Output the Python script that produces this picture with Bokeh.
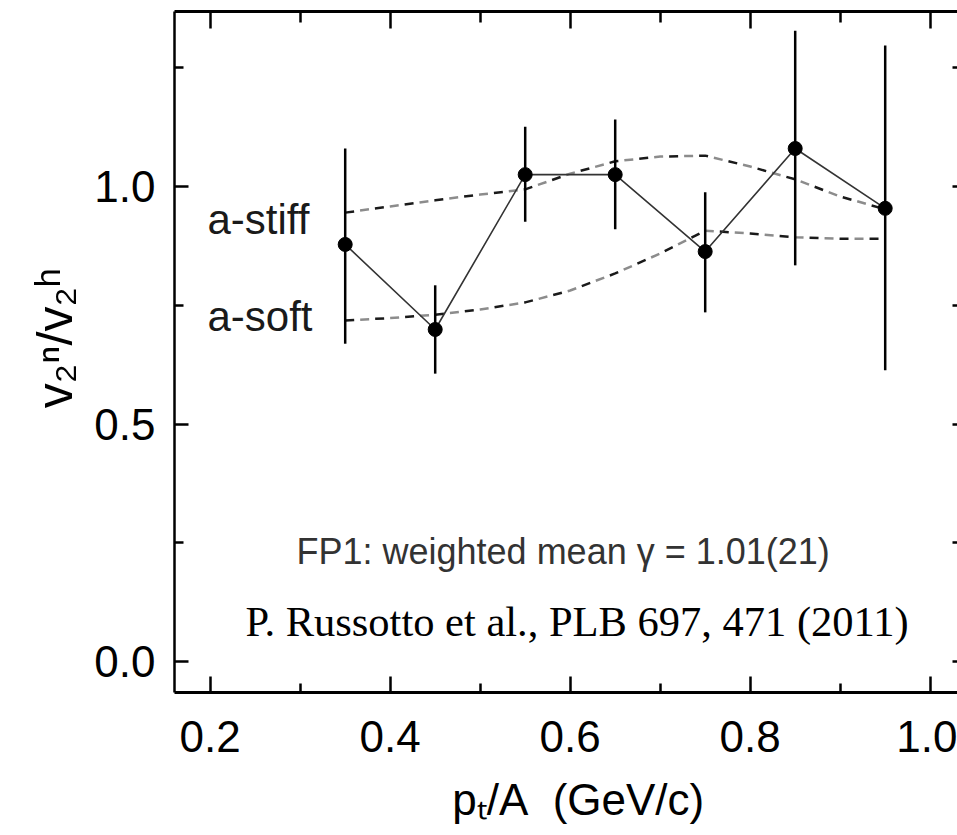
import math
from bokeh.plotting import figure
from bokeh.models import LinearAxis, FixedTicker, Range1d, Label
from bokeh.embed import file_html
from bokeh.resources import INLINE

# ---------------- data ----------------
pt = [0.35, 0.45, 0.55, 0.65, 0.75, 0.85, 0.95]
ratio = [0.878, 0.699, 1.025, 1.025, 0.863, 1.080, 0.954]
err_hi = [1.080, 0.792, 1.126, 1.141, 0.988, 1.328, 1.297]
err_lo = [0.669, 0.606, 0.926, 0.910, 0.735, 0.834, 0.613]

curve_x = [0.35, 0.40, 0.45, 0.50, 0.55, 0.60, 0.65, 0.70, 0.75, 0.80, 0.85, 0.90, 0.95]
stiff = [0.945, 0.958, 0.971, 0.983, 0.994, 1.027, 1.053, 1.063, 1.065, 1.042, 1.015, 0.979, 0.952]
soft = [0.718, 0.723, 0.730, 0.741, 0.756, 0.781, 0.817, 0.859, 0.907, 0.901, 0.893, 0.890, 0.890]

x_ticks = [0.2, 0.4, 0.6, 0.8, 1.0]
x_tick_labels = ["0.2", "0.4", "0.6", "0.8", "1.0"]
x_minor = [0.3, 0.5, 0.7, 0.9]
y_ticks = [0.0, 0.5, 1.0]
y_tick_labels = ["0.0", "0.5", "1.0"]
y_minor = [0.25, 0.75, 1.25]
right_ticks = [0.0, 0.25, 0.5, 0.75, 1.0, 1.25]

x_title = "\u00a0\u00a0p\u209c/A\u00a0 (GeV/c)"
y_title = "\u00a0\u00a0v\u2082\u207f/v\u2082\u02b0"
stiff_label = "a-stiff"
soft_label = "a-soft"
fp1_text = "FP1:  weighted  mean  \u03b3  =  1.01(21)"
ref_text = "P. Russotto et al., PLB 697, 471 (2011)"

# ---------------- layout ----------------
W, H = 957, 835
FL, FR, FT, FB = 174, 957, 11, 692      # frame edges in pixels
PX_PER_X = 900.0
PX_PER_Y = 475.0
Y0_PX = 661.0
X_START = 0.2 - (209.7 - FL) / PX_PER_X
X_END = X_START + (FR - FL) / PX_PER_X
Y_START = -(FB - Y0_PX) / PX_PER_Y
Y_END = Y_START + (FB - FT) / PX_PER_Y

SANS = "Liberation Sans"
SERIF = "Liberation Serif"

p = figure(width=W, height=H, output_backend="svg", toolbar_location=None,
           x_range=Range1d(X_START, X_END), y_range=Range1d(Y_START, Y_END),
           x_axis_location=None, y_axis_location=None,
           min_border_left=FL, min_border_right=W - FR,
           min_border_top=FT, min_border_bottom=H - FB)
p.grid.visible = False
p.outline_line_color = None
p.background_fill_color = "white"
p.border_fill_color = "white"


def style_axis(ax, major_in, minor_in, lw, tick_lw):
    ax.major_tick_in = major_in
    ax.major_tick_out = 0
    ax.minor_tick_in = minor_in
    ax.minor_tick_out = 0
    ax.axis_line_width = lw
    ax.axis_line_color = "black"
    ax.major_tick_line_width = tick_lw
    ax.minor_tick_line_width = tick_lw
    ax.major_tick_line_color = "black"
    ax.minor_tick_line_color = "black"


bottom = LinearAxis(ticker=FixedTicker(ticks=x_ticks, minor_ticks=x_minor))
style_axis(bottom, 16, 9, 3, 2.5)
bottom.major_label_overrides = dict(zip(x_ticks, x_tick_labels))
bottom.major_label_text_font = SANS
bottom.major_label_text_font_size = "44px"
bottom.major_label_text_color = "black"
bottom.major_label_standoff = 28
bottom.axis_label = x_title
bottom.axis_label_text_font = SANS
bottom.axis_label_text_font_size = "44px"
bottom.axis_label_text_font_style = "normal"
bottom.axis_label_text_color = "black"
bottom.axis_label_standoff = 20
p.add_layout(bottom, "below")

left = LinearAxis(ticker=FixedTicker(ticks=y_ticks, minor_ticks=y_minor))
style_axis(left, 14, 9, 2.5, 2.5)
left.major_label_overrides = dict(zip(y_ticks, y_tick_labels))
left.major_label_text_font = SANS
left.major_label_text_font_size = "44px"
left.major_label_text_color = "black"
left.major_label_standoff = 19
left.axis_label = y_title
left.axis_label_text_font = SANS
left.axis_label_text_font_size = "50px"
left.axis_label_text_font_style = "normal"
left.axis_label_text_color = "black"
left.axis_label_standoff = 8
p.add_layout(left, "left")

top = LinearAxis(ticker=FixedTicker(ticks=x_ticks, minor_ticks=x_minor))
style_axis(top, 17, 11, 3, 2.5)
top.major_label_overrides = {t: "" for t in x_ticks}
top.major_label_text_font_size = "1px"
top.major_label_standoff = 0
p.add_layout(top, "above")

right = LinearAxis(ticker=FixedTicker(ticks=right_ticks, minor_ticks=[]))
style_axis(right, 5, 0, 2, 2.5)
right.axis_line_color = None
right.major_label_overrides = {t: "" for t in right_ticks}
right.major_label_text_font_size = "1px"
right.major_label_standoff = 0
p.add_layout(right, "right")

# model curves: alternating dark / grey dashes
for ys in (stiff, soft):
    p.line(curve_x, ys, line_color="#1a1a1a", line_width=2.5, line_dash="9 21")
    p.line(curve_x, ys, line_color="#8c8c8c", line_width=2.5, line_dash="9 21",
           line_dash_offset=15)

# data
p.segment(x0=pt, y0=err_lo, x1=pt, y1=err_hi, line_color="black", line_width=2.5)
p.line(pt, ratio, line_color="#333333", line_width=1.6)
p.scatter(pt, ratio, size=14, marker="circle", fill_color="black", line_color="black")

LABEL_SHIFT = 14  # Bokeh places the alphabetic baseline slightly lower


def px_x(px):
    return X_START + (px - FL) / PX_PER_X


def px_y(py):
    return (Y0_PX - (py - LABEL_SHIFT)) / PX_PER_Y


def lab(text, px, py, size, font, color="black", angle=0.0, align="left"):
    p.add_layout(Label(x=px_x(px), y=px_y(py), text=text, text_font=font,
                       text_font_size=f"{size}px", text_color=color, angle=angle,
                       text_align=align, text_baseline="alphabetic"))


lab(stiff_label, 207, 233, 42, SANS, "#1a1a1a")
lab(soft_label, 207, 330, 42, SANS, "#1a1a1a")
lab(fp1_text, 296, 565, 36, SANS, "#333333")
lab(ref_text, 245, 635, 42.5, SERIF, "black")

open("out.html", "w").write(file_html(p, INLINE))
